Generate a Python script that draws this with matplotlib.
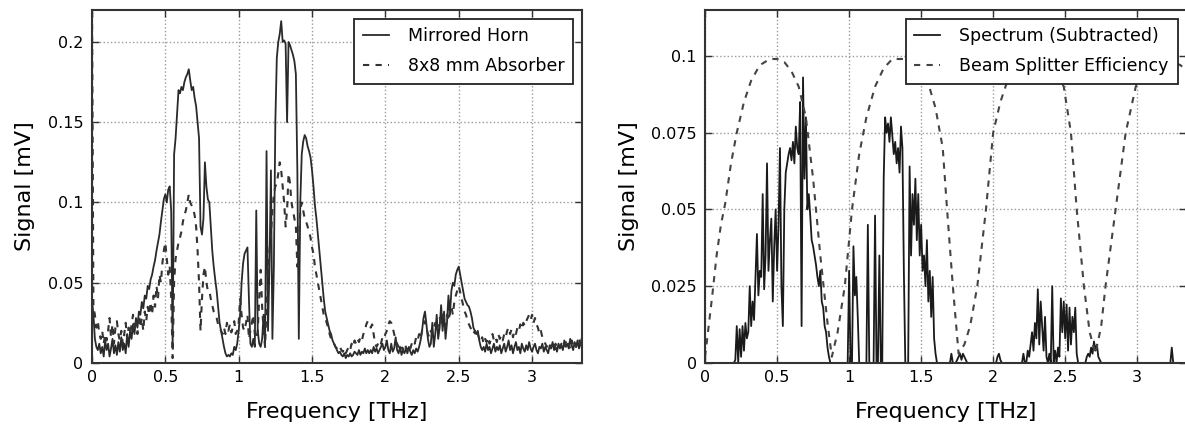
import numpy as np
import matplotlib
matplotlib.use("Agg")
import matplotlib.pyplot as plt
from matplotlib.ticker import FormatStrFormatter

# frequency grid of the measured spectra (THz), 0.01 THz steps
freq = np.round(np.arange(0, 3.345, 0.01), 2)

horn = [
    0.040, 0.030, 0.015, 0.010, 0.008, 0.012, 0.006, 0.010, 0.004, 0.014,
    0.008, 0.012, 0.004, 0.009, 0.015, 0.006, 0.011, 0.005, 0.013, 0.007,
    0.016, 0.008, 0.012, 0.006, 0.018, 0.010, 0.020, 0.015, 0.024, 0.018,
    0.028, 0.022, 0.032, 0.030, 0.038, 0.034, 0.042, 0.040, 0.048, 0.046,
    0.052, 0.055, 0.060, 0.064, 0.070, 0.075, 0.080, 0.088, 0.095, 0.102,
    0.105, 0.100, 0.108, 0.110, 0.095, 0.010, 0.130, 0.140, 0.155, 0.170,
    0.168, 0.172, 0.170, 0.175, 0.178, 0.180, 0.183, 0.176, 0.170, 0.172,
    0.165, 0.160, 0.150, 0.140, 0.085, 0.080, 0.090, 0.125, 0.110, 0.102,
    0.100, 0.085, 0.070, 0.060, 0.052, 0.045, 0.035, 0.025, 0.020, 0.015,
    0.010, 0.006, 0.004, 0.005, 0.004, 0.006, 0.005, 0.010, 0.008, 0.012,
    0.020, 0.030, 0.050, 0.062, 0.068, 0.070, 0.072, 0.040, 0.012, 0.010,
    0.015, 0.010, 0.095, 0.020, 0.012, 0.010, 0.015, 0.030, 0.010, 0.132,
    0.020, 0.060, 0.120, 0.015, 0.060, 0.150, 0.190, 0.200, 0.205, 0.213,
    0.200, 0.201, 0.199, 0.150, 0.200, 0.198, 0.195, 0.192, 0.188, 0.180,
    0.120, 0.015, 0.100, 0.130, 0.138, 0.142, 0.140, 0.135, 0.132, 0.128,
    0.120, 0.110, 0.098, 0.090, 0.080, 0.070, 0.060, 0.050, 0.040, 0.032,
    0.028, 0.024, 0.020, 0.018, 0.014, 0.012, 0.010, 0.008, 0.006, 0.007,
    0.005, 0.004, 0.006, 0.003, 0.005, 0.004, 0.006, 0.004, 0.005, 0.007,
    0.006, 0.005, 0.008, 0.005, 0.007, 0.006, 0.009, 0.006, 0.008, 0.006,
    0.008, 0.006, 0.010, 0.007, 0.009, 0.006, 0.008, 0.010, 0.012, 0.008,
    0.010, 0.014, 0.008, 0.006, 0.012, 0.007, 0.009, 0.016, 0.008, 0.006,
    0.010, 0.005, 0.008, 0.006, 0.009, 0.006, 0.010, 0.007, 0.005, 0.008,
    0.006, 0.009, 0.007, 0.010, 0.014, 0.020, 0.028, 0.032, 0.024, 0.015,
    0.010, 0.012, 0.025, 0.010, 0.018, 0.030, 0.015, 0.022, 0.036, 0.020,
    0.032, 0.015, 0.025, 0.042, 0.030, 0.045, 0.050, 0.048, 0.055, 0.058,
    0.060, 0.055, 0.050, 0.045, 0.040, 0.038, 0.036, 0.035, 0.032, 0.028,
    0.022, 0.020, 0.018, 0.020, 0.014, 0.010, 0.008, 0.010, 0.007, 0.012,
    0.008, 0.010, 0.006, 0.009, 0.012, 0.007, 0.010, 0.008, 0.011, 0.006,
    0.009, 0.012, 0.007, 0.010, 0.014, 0.008, 0.011, 0.006, 0.010, 0.013,
    0.008, 0.010, 0.006, 0.012, 0.009, 0.007, 0.011, 0.008, 0.013, 0.009,
    0.007, 0.010, 0.012, 0.008, 0.006, 0.010, 0.009, 0.012, 0.007, 0.010,
    0.008, 0.006, 0.011, 0.009, 0.013, 0.008, 0.010, 0.007, 0.012, 0.009,
    0.011, 0.008, 0.014, 0.010, 0.012, 0.009, 0.015, 0.011, 0.008, 0.013,
    0.010, 0.014, 0.009, 0.012, 0.016,
]

absorber = [
    0.230, 0.035, 0.030, 0.022, 0.026, 0.018, 0.015, 0.020, 0.012, 0.018,
    0.014, 0.020, 0.028, 0.016, 0.024, 0.012, 0.022, 0.026, 0.018, 0.014,
    0.020, 0.012, 0.018, 0.025, 0.015, 0.022, 0.018, 0.024, 0.030, 0.020,
    0.025, 0.018, 0.030, 0.022, 0.028, 0.020, 0.032, 0.026, 0.035, 0.030,
    0.038, 0.030, 0.042, 0.035, 0.048, 0.040, 0.055, 0.050, 0.062, 0.070,
    0.075, 0.065, 0.055, 0.060, 0.040, 0.003, 0.050, 0.065, 0.070, 0.075,
    0.078, 0.082, 0.088, 0.092, 0.095, 0.100, 0.105, 0.100, 0.098, 0.096,
    0.092, 0.085, 0.070, 0.050, 0.020, 0.040, 0.055, 0.060, 0.050, 0.045,
    0.045, 0.040, 0.036, 0.032, 0.030, 0.028, 0.024, 0.022, 0.020, 0.018,
    0.022, 0.018, 0.025, 0.020, 0.024, 0.019, 0.022, 0.026, 0.018, 0.020,
    0.025, 0.040, 0.030, 0.022, 0.020, 0.025, 0.030, 0.015, 0.020, 0.025,
    0.030, 0.018, 0.015, 0.020, 0.040, 0.058, 0.035, 0.020, 0.010, 0.035,
    0.050, 0.070, 0.080, 0.095, 0.105, 0.110, 0.112, 0.118, 0.125, 0.120,
    0.110, 0.100, 0.085, 0.095, 0.118, 0.112, 0.100, 0.095, 0.090, 0.085,
    0.060, 0.070, 0.095, 0.100, 0.095, 0.090, 0.088, 0.085, 0.082, 0.078,
    0.072, 0.068, 0.060, 0.055, 0.050, 0.045, 0.040, 0.035, 0.030, 0.028,
    0.025, 0.022, 0.018, 0.015, 0.014, 0.012, 0.010, 0.009, 0.008, 0.010,
    0.008, 0.007, 0.009, 0.006, 0.008, 0.010, 0.008, 0.012, 0.010, 0.014,
    0.012, 0.015, 0.013, 0.016, 0.014, 0.018, 0.020, 0.024, 0.026, 0.025,
    0.022, 0.024, 0.018, 0.012, 0.010, 0.012, 0.014, 0.012, 0.016, 0.015,
    0.018, 0.020, 0.024, 0.026, 0.025, 0.022, 0.018, 0.014, 0.012, 0.010,
    0.012, 0.010, 0.008, 0.012, 0.010, 0.008, 0.011, 0.009, 0.012, 0.014,
    0.012, 0.016, 0.014, 0.018, 0.015, 0.020, 0.024, 0.026, 0.022, 0.018,
    0.016, 0.020, 0.018, 0.022, 0.025, 0.020, 0.024, 0.028, 0.025, 0.030,
    0.028, 0.022, 0.030, 0.026, 0.032, 0.035, 0.030, 0.038, 0.042, 0.045,
    0.048, 0.044, 0.040, 0.036, 0.032, 0.030, 0.026, 0.024, 0.022, 0.020,
    0.018, 0.020, 0.016, 0.018, 0.015, 0.013, 0.016, 0.012, 0.015, 0.013,
    0.016, 0.012, 0.015, 0.018, 0.014, 0.016, 0.013, 0.018, 0.015, 0.017,
    0.014, 0.018, 0.016, 0.020, 0.022, 0.018, 0.021, 0.016, 0.020, 0.018,
    0.022, 0.020, 0.024, 0.021, 0.025, 0.023, 0.026, 0.028, 0.030, 0.027,
    0.030, 0.025, 0.028, 0.024, 0.022, 0.018, 0.020, 0.016, 0.014, 0.012,
    0.010, 0.012, 0.009, 0.011, 0.008, 0.010, 0.012, 0.009, 0.011, 0.010,
    0.012, 0.009, 0.011, 0.013, 0.010, 0.012, 0.009, 0.014, 0.011, 0.013,
    0.010, 0.012, 0.015, 0.011, 0.014,
]

spectrum = [
    0.000, 0.000, 0.000, 0.000, 0.000, 0.000, 0.000, 0.000, 0.000, 0.000,
    0.000, 0.000, 0.000, 0.000, 0.000, 0.000, 0.000, 0.000, 0.000, 0.000,
    0.000, 0.001, 0.012, 0.000, 0.011, 0.002, 0.012, 0.004, 0.013, 0.008,
    0.010, 0.025, 0.012, 0.020, 0.014, 0.028, 0.042, 0.022, 0.030, 0.028,
    0.055, 0.024, 0.035, 0.065, 0.030, 0.040, 0.047, 0.020, 0.038, 0.050,
    0.030, 0.045, 0.070, 0.025, 0.012, 0.050, 0.062, 0.065, 0.068, 0.070,
    0.066, 0.072, 0.065, 0.077, 0.070, 0.068, 0.085, 0.012, 0.093, 0.060,
    0.080, 0.050, 0.055, 0.048, 0.040, 0.038, 0.035, 0.032, 0.028, 0.025,
    0.030, 0.020, 0.018, 0.012, 0.010, 0.005, 0.002, 0.000, 0.000, 0.000,
    0.000, 0.000, 0.000, 0.000, 0.000, 0.000, 0.000, 0.000, 0.000, 0.000,
    0.030, 0.000, 0.000, 0.038, 0.022, 0.028, 0.015, 0.000, 0.000, 0.000,
    0.000, 0.000, 0.000, 0.045, 0.000, 0.000, 0.000, 0.000, 0.048, 0.000,
    0.000, 0.035, 0.000, 0.000, 0.060, 0.080, 0.075, 0.078, 0.072, 0.080,
    0.074, 0.068, 0.072, 0.065, 0.070, 0.062, 0.077, 0.070, 0.030, 0.000,
    0.000, 0.000, 0.064, 0.035, 0.055, 0.045, 0.060, 0.040, 0.055, 0.035,
    0.045, 0.030, 0.035, 0.025, 0.040, 0.020, 0.030, 0.015, 0.028, 0.008,
    0.003, 0.000, 0.000, 0.000, 0.000, 0.000, 0.000, 0.000, 0.000, 0.000,
    0.000, 0.003, 0.000, 0.000, 0.000, 0.001, 0.002, 0.003, 0.001, 0.003,
    0.002, 0.001, 0.000, 0.000, 0.000, 0.000, 0.000, 0.000, 0.000, 0.000,
    0.000, 0.000, 0.000, 0.000, 0.000, 0.000, 0.000, 0.000, 0.000, 0.000,
    0.000, 0.000, 0.000, 0.002, 0.003, 0.001, 0.000, 0.000, 0.000, 0.000,
    0.000, 0.000, 0.000, 0.000, 0.000, 0.000, 0.000, 0.000, 0.000, 0.000,
    0.000, 0.003, 0.000, 0.000, 0.004, 0.002, 0.006, 0.010, 0.004, 0.013,
    0.008, 0.024, 0.006, 0.020, 0.012, 0.004, 0.015, 0.002, 0.000, 0.003,
    0.000, 0.025, 0.000, 0.004, 0.000, 0.005, 0.002, 0.021, 0.010, 0.020,
    0.008, 0.019, 0.004, 0.018, 0.006, 0.015, 0.010, 0.018, 0.003, 0.000,
    0.000, 0.000, 0.000, 0.000, 0.000, 0.002, 0.003, 0.002, 0.005, 0.003,
    0.007, 0.004, 0.006, 0.002, 0.001, 0.000, 0.000, 0.000, 0.000, 0.000,
    0.000, 0.000, 0.000, 0.000, 0.000, 0.000, 0.000, 0.000, 0.000, 0.000,
    0.000, 0.000, 0.000, 0.000, 0.000, 0.000, 0.000, 0.000, 0.000, 0.000,
    0.000, 0.000, 0.000, 0.000, 0.000, 0.000, 0.000, 0.000, 0.000, 0.000,
    0.000, 0.000, 0.000, 0.000, 0.000, 0.000, 0.000, 0.000, 0.000, 0.000,
    0.000, 0.000, 0.000, 0.000, 0.005, 0.000, 0.000, 0.000, 0.000, 0.000,
    0.000, 0.000, 0.000, 0.000, 0.000,
]

# beam splitter efficiency curve (scaled), read at irregular points
bs_freq = [0.00, 0.02, 0.05, 0.08, 0.11, 0.14, 0.18, 0.22, 0.27, 0.32,
           0.38, 0.45, 0.50, 0.55, 0.60, 0.65, 0.70, 0.75, 0.80, 0.85,
           0.88, 0.92, 0.97, 1.02, 1.07, 1.12, 1.18, 1.24, 1.30, 1.40,
           1.45, 1.50, 1.55, 1.60, 1.65, 1.68, 1.72, 1.76, 1.80, 1.84,
           1.89, 1.95, 2.00, 2.05, 2.10, 2.15, 2.20, 2.30, 2.40, 2.45,
           2.49, 2.54, 2.58, 2.63, 2.67, 2.71, 2.75, 2.78, 2.85, 2.92,
           2.99, 3.05, 3.10, 3.20, 3.30, 3.35]
bs_eff = [0.002, 0.010, 0.022, 0.035, 0.045, 0.052, 0.065, 0.075, 0.085, 0.092,
          0.097, 0.099, 0.099, 0.098, 0.095, 0.090, 0.080, 0.060, 0.035, 0.013,
          0.002, 0.010, 0.025, 0.050, 0.068, 0.080, 0.090, 0.096, 0.099, 0.099,
          0.098, 0.096, 0.091, 0.083, 0.070, 0.050, 0.025, 0.003, 0.006, 0.012,
          0.025, 0.050, 0.075, 0.085, 0.092, 0.096, 0.099, 0.099, 0.097, 0.094,
          0.090, 0.075, 0.050, 0.025, 0.010, 0.003, 0.012, 0.025, 0.050, 0.075,
          0.090, 0.096, 0.099, 0.099, 0.097, 0.095]

left_yticks = [0, 0.05, 0.1, 0.15, 0.2]
right_yticks = [0, 0.025, 0.05, 0.075, 0.1]
xticks = [0, 0.5, 1, 1.5, 2, 2.5, 3]


def style_axes(ax, ylim, yticks):
    ax.set_xlim(0, 3.34)
    ax.set_ylim(*ylim)
    ax.set_xticks(xticks)
    ax.set_yticks(yticks)
    ax.xaxis.set_major_formatter(FormatStrFormatter('%g'))
    ax.yaxis.set_major_formatter(FormatStrFormatter('%g'))
    ax.tick_params(direction='in', top=True, right=True, length=5,
                   width=1, labelsize=11.5, color='#333333')
    ax.tick_params(axis='y', pad=6)
    ax.tick_params(axis='x', pad=5)
    ax.grid(True, linestyle=':', color='#9a9a9a', linewidth=1)
    for sp in ax.spines.values():
        sp.set_linewidth(1.5)
        sp.set_color('#333333')
    ax.set_xlabel('Frequency [THz]', fontsize=16, labelpad=12)
    ax.set_ylabel('Signal [mV]', fontsize=16, labelpad=9)


fig = plt.figure(figsize=(11.85, 4.3), dpi=100)
ax1 = fig.add_axes([0.0776, 0.156, 0.4135, 0.821])
ax2 = fig.add_axes([0.595, 0.156, 0.406, 0.821])

ax1.plot(freq, horn, color='#2a2a2a', lw=1.3, label='Mirrored Horn')
ax1.plot(freq, absorber, color='#333333', lw=1.5, dashes=(3, 3),
         label='8x8 mm Absorber')
style_axes(ax1, (0, 0.22), left_yticks)

ax2.plot(freq, spectrum, color='#1a1a1a', lw=1.3,
         label='Spectrum (Subtracted)')
ax2.plot(bs_freq, bs_eff, color='#444444', lw=1.5, dashes=(3, 3),
         label='Beam Splitter Efficiency')
style_axes(ax2, (0, 0.115), right_yticks)

for ax in (ax1, ax2):
    leg = ax.legend(loc='upper right', fontsize=12.5, fancybox=False,
                    framealpha=1, edgecolor='#222222', handlelength=1.5,
                    handletextpad=1.1, borderaxespad=0.5, labelspacing=0.7,
                    borderpad=0.5)
    leg.get_frame().set_linewidth(1.3)

fig.savefig('out.png', dpi=100, facecolor='white')
